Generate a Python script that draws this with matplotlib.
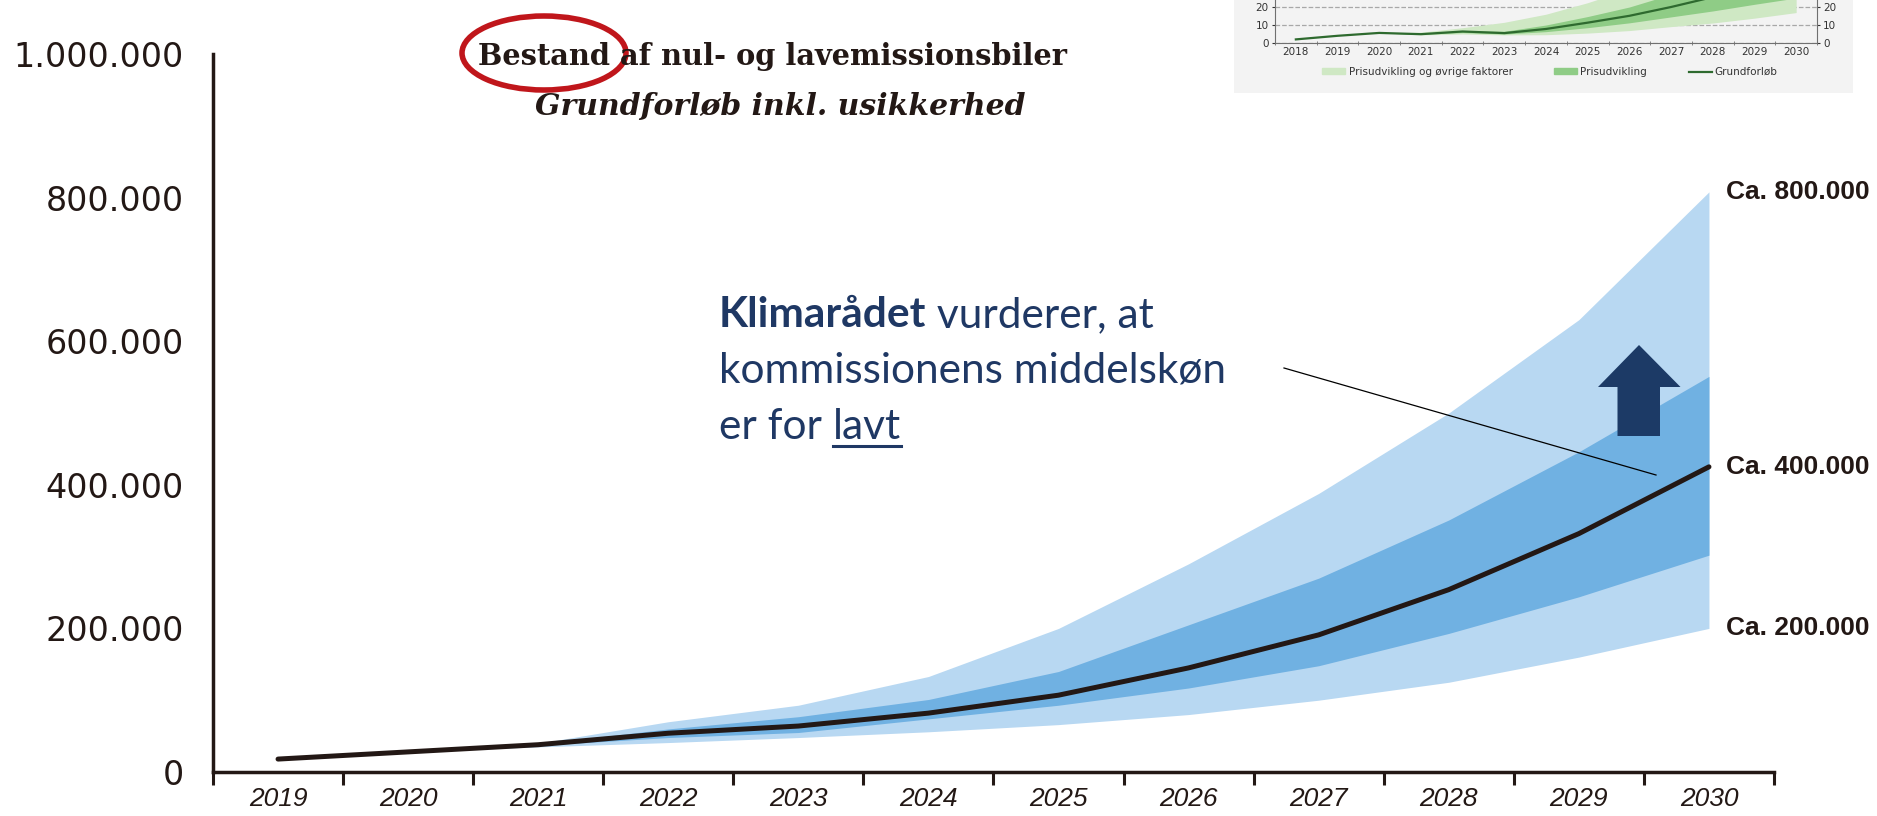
import matplotlib.pyplot as plt
import numpy as np
from matplotlib.patches import Ellipse, Polygon, Rectangle, Patch
from matplotlib.lines import Line2D

# Main chart: stock of zero- and low-emission cars
years = [str(y) for y in range(2019, 2031)]
grundforloeb = np.array([18, 28, 38, 54, 64, 82, 107, 145, 191, 254, 332, 425]) * 1000
ydre_hoej = np.array([18, 28, 40, 70, 93, 133, 200, 290, 388, 500, 630, 808]) * 1000
ydre_lav = np.array([18, 28, 35, 41, 48, 56, 66, 80, 100, 125, 160, 200]) * 1000
indre_hoej = np.array([18, 28, 39, 60, 77, 101, 140, 205, 270, 351, 446, 551]) * 1000
indre_lav = np.array([18, 28, 37, 48, 55, 74, 93, 117, 148, 193, 244, 302]) * 1000

yticks = [0, 200000, 400000, 600000, 800000, 1000000]
end_labels = ['Ca. 800.000', 'Ca. 400.000', 'Ca. 200.000']

# Small inset (cropped screenshot of the commission's chart)
inset_years = [str(y) for y in range(2018, 2031)]
inset_line = [2.0, 4.0, 5.6, 4.9, 6.4, 5.5, 7.8, 11.3, 15.1, 20.0, 25.5, 32.0, 39.0]
inset_light_hi = [2.0, 4.0, 5.6, 6.0, 8.5, 11.5, 16.0, 22.4, 30.0, 40.0, 52.0, 66.0, 82.0]
inset_light_lo = [2.0, 4.0, 5.6, 4.5, 5.0, 4.5, 4.6, 5.5, 6.9, 9.1, 11.1, 13.8, 16.9]
inset_mid_hi = [2.0, 4.0, 5.6, 5.3, 6.8, 6.5, 10.0, 14.7, 20.0, 27.0, 34.0, 42.0, 51.0]
inset_mid_lo = [2.0, 4.0, 5.6, 4.8, 5.8, 5.0, 6.3, 8.5, 11.2, 14.5, 17.8, 21.5, 25.0]
inset_yticks = [0, 10, 20]
inset_labels = ['Prisudvikling og øvrige faktorer', 'Prisudvikling', 'Grundforløb']

W, H = 1877, 816
def fx(px):
    return px / W
def fy(py):
    return 1 - py / H

dark = '#231815'
navy = '#1f3864'

fig = plt.figure(figsize=(W / 100, H / 100), dpi=100)

ax = fig.add_axes([fx(213), fy(772), fx(1774 - 213), (772 - 54) / H])
ax.set_facecolor('none')
x = np.arange(len(years))
ax.fill_between(x, ydre_lav, ydre_hoej, color='#b8d8f2', lw=0)
ax.fill_between(x, indre_lav, indre_hoej, color='#70b1e2', lw=0)
ax.plot(x, grundforloeb, color=dark, lw=3.6, solid_capstyle='round')

ax.set_xlim(-0.5, len(years) - 0.5)
ax.set_ylim(0, 1000000)
for s in ['top', 'right']:
    ax.spines[s].set_visible(False)
for s in ['left', 'bottom']:
    ax.spines[s].set_color(dark)
    ax.spines[s].set_linewidth(2.5)

ax.set_yticks(yticks)
ax.set_yticklabels([f'{v:,}'.replace(',', '.') for v in yticks],
                   fontsize=24, color=dark, family='DejaVu Sans')
ax.tick_params(axis='y', length=0, pad=21)
ax.set_xticks(x)
ax.set_xticklabels(years, fontsize=19, style='italic', color=dark, family='Liberation Sans')
ax.set_xticks(np.arange(-0.5, len(years)), minor=True)
ax.tick_params(axis='x', which='major', length=0, pad=11)
ax.tick_params(axis='x', which='minor', length=9, width=2.2, color=dark)

# end labels
for lbl, val in zip(end_labels, [ydre_hoej[-1], grundforloeb[-1], ydre_lav[-1]]):
    ax.annotate(lbl, (x[-1], val), xytext=(12, 0), textcoords='offset points',
                ha='left', va='center', fontsize=19, weight='bold', color=dark,
                family='Liberation Sans', annotation_clip=False)

# title
fig.text(fx(772), fy(65), 'Bestand af nul- og lavemissionsbiler', ha='center', va='baseline',
         fontsize=20.8, weight='bold', family='DejaVu Serif', color=dark)
fig.text(fx(780), fy(115), 'Grundforløb inkl. usikkerhed', ha='center', va='baseline',
         fontsize=21.5, weight='bold', style='italic', family='DejaVu Serif', color=dark)
fig.add_artist(Ellipse((fx(544), fy(53)), fx(164), 74 / H, fill=False,
                       ec='#c0161b', lw=4, transform=fig.transFigure, zorder=3))

# commentary text
tfont = dict(fontsize=30.5, color=navy, family='Lato')
t1 = fig.text(fx(719), fy(327), 'Klimarådet', va='baseline', weight='bold', **tfont)
ax.annotate(' vurderer, at', xy=(1, 0), xycoords=t1, va='bottom', **tfont)
fig.text(fx(719), fy(383), 'kommissionens middelskøn', va='baseline', **tfont)
t3 = fig.text(fx(719), fy(439), 'er for ', va='baseline', **tfont)
t4 = ax.annotate('lavt', xy=(1, 0), xycoords=t3, va='bottom', **tfont)
fig.canvas.draw()
bb = t4.get_window_extent()
fig.add_artist(Line2D([bb.x0 / W, bb.x1 / W], [fy(446), fy(446)], color=navy, lw=2.2))

fig.add_artist(Line2D([fx(1284), fx(1656)], [fy(368), fy(475)], color='black', lw=0.9))

arrow_pts = [(1617.5, 436), (1617.5, 387), (1598, 387), (1639, 345),
             (1680.5, 387), (1660, 387), (1660, 436)]
fig.add_artist(Polygon([(fx(a), fy(b)) for a, b in arrow_pts], closed=True,
                       fc='#1c3a66', ec='none', transform=fig.transFigure, zorder=2))

# inset
fig.add_artist(Rectangle((fx(1234), fy(93)), fx(1853 - 1234), 93 / H, fc='#f3f3f3', ec='none',
                         transform=fig.transFigure, zorder=0.5))
axi = fig.add_axes([fx(1275), fy(43), fx(1817 - 1275), 90 / H], zorder=2)
axi.set_facecolor('#f3f3f3')
xi = np.arange(len(inset_years))
axi.fill_between(xi, inset_light_lo, inset_light_hi, color='#cfe8c4', lw=0)
axi.fill_between(xi, inset_mid_lo, inset_mid_hi, color='#8fcc86', lw=0)
axi.plot(xi, inset_line, color='#2e6a2f', lw=1.6)
axi.set_xlim(-0.5, len(inset_years) - 0.5)
axi.set_ylim(0, 50)
axi.spines['top'].set_visible(False)
for s in ['left', 'right', 'bottom']:
    axi.spines[s].set_color('#707070')
    axi.spines[s].set_linewidth(0.8)
axi.set_yticks(inset_yticks)
axi.grid(axis='y', ls='--', color='#a8a8a8', lw=0.9)
axi.set_axisbelow(True)
axi.tick_params(axis='y', left=True, right=True, labelright=True, length=2.5,
                labelsize=7.5, colors='#333333', pad=2)
axi.set_xticks(xi)
axi.set_xticklabels(inset_years)
axi.set_xticks(np.arange(-0.5, len(inset_years)), minor=True)
axi.tick_params(axis='x', which='major', length=0, labelsize=7.5, colors='#333333', pad=3)
axi.tick_params(axis='x', which='minor', length=3, direction='inout', color='#707070')
handles = [Patch(color='#cfe8c4'), Patch(color='#8fcc86'), Line2D([], [], color='#2e6a2f', lw=1.6)]
axi.legend(handles, inset_labels, loc='center', bbox_to_anchor=(fx(1550), fy(72)),
           bbox_transform=fig.transFigure, ncol=3, frameon=False, fontsize=7.5,
           handlelength=2.2, handleheight=0.5, handletextpad=0.3, columnspacing=4,
           labelcolor='#333333')

fig.savefig('out.png', dpi=100)
